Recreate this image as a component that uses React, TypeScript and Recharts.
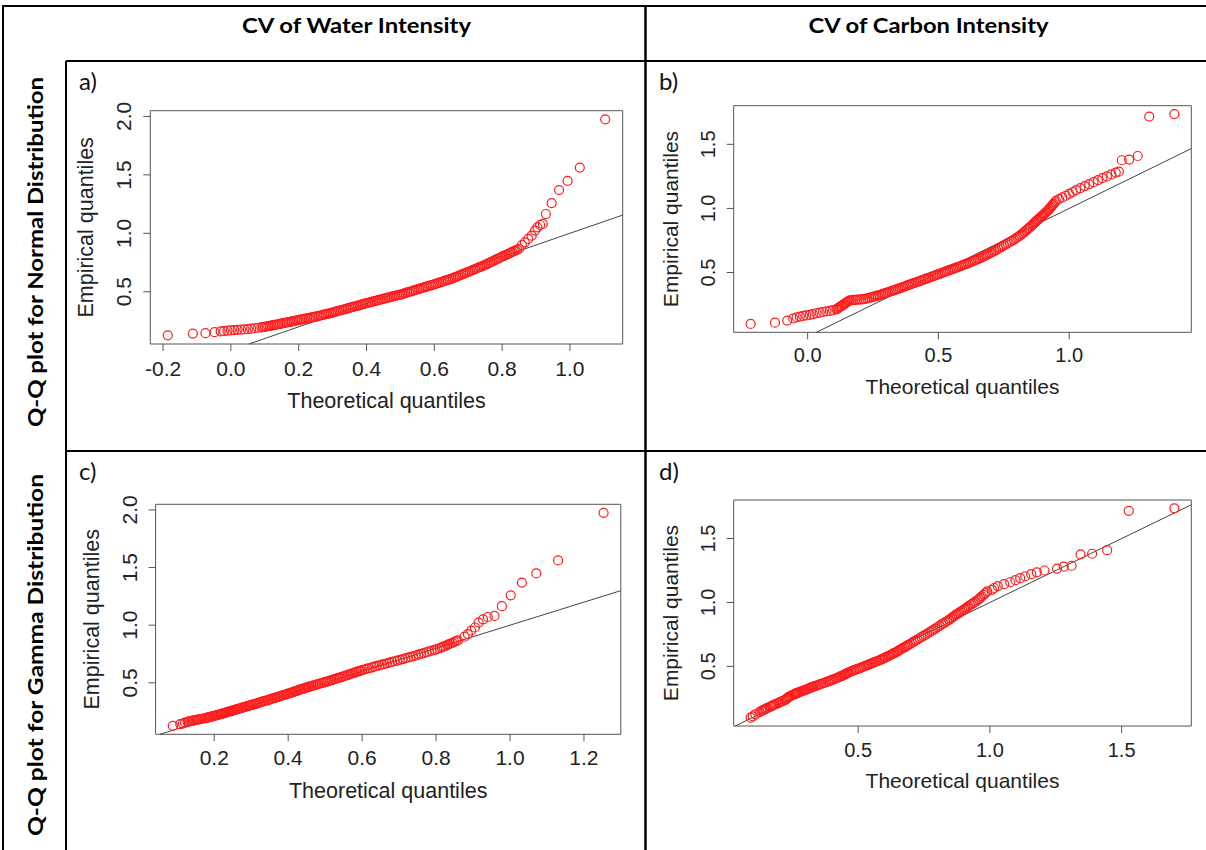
import React from "react";
import { ReferenceArea, ReferenceLine, Scatter, ScatterChart, XAxis, YAxis } from "recharts";

// CV of water intensity: sorted sample (shared by panels a and c) and theoretical quantiles
const waterNormalTheo = [
  -0.186, -0.112, -0.075, -0.048, -0.03, -0.02, -0.01, 0, 0.01, 0.02,
  0.03, 0.04, 0.05, 0.06, 0.07, 0.08, 0.09, 0.095, 0.1, 0.105,
  0.11, 0.115, 0.12, 0.125, 0.13, 0.135, 0.14, 0.145, 0.15, 0.155,
  0.16, 0.165, 0.17, 0.175, 0.18, 0.185, 0.19, 0.195, 0.2, 0.205,
  0.21, 0.215, 0.22, 0.225, 0.23, 0.235, 0.24, 0.245, 0.25, 0.255,
  0.26, 0.265, 0.27, 0.275, 0.28, 0.285, 0.29, 0.295, 0.3, 0.305,
  0.31, 0.315, 0.32, 0.325, 0.33, 0.335, 0.34, 0.345, 0.35, 0.355,
  0.36, 0.365, 0.37, 0.375, 0.38, 0.385, 0.39, 0.395, 0.4, 0.405,
  0.41, 0.415, 0.42, 0.425, 0.43, 0.435, 0.44, 0.445, 0.45, 0.455,
  0.46, 0.465, 0.47, 0.475, 0.48, 0.485, 0.49, 0.495, 0.5, 0.505,
  0.51, 0.515, 0.52, 0.525, 0.53, 0.535, 0.54, 0.545, 0.55, 0.555,
  0.56, 0.565, 0.57, 0.575, 0.58, 0.585, 0.59, 0.595, 0.6, 0.605,
  0.61, 0.615, 0.62, 0.625, 0.63, 0.635, 0.64, 0.645, 0.65, 0.655,
  0.66, 0.665, 0.67, 0.675, 0.68, 0.685, 0.69, 0.695, 0.7, 0.705,
  0.71, 0.715, 0.72, 0.725, 0.73, 0.735, 0.74, 0.745, 0.75, 0.755,
  0.76, 0.765, 0.77, 0.775, 0.78, 0.785, 0.79, 0.795, 0.8, 0.805,
  0.81, 0.815, 0.82, 0.825, 0.83, 0.835, 0.84, 0.845, 0.85, 0.858,
  0.867, 0.877, 0.887, 0.897, 0.904, 0.912, 0.92, 0.929, 0.946, 0.968,
  0.993, 1.029, 1.104,
];
const waterEmpirical = [
  0.127, 0.142, 0.146, 0.154, 0.161, 0.164, 0.167, 0.17, 0.172, 0.174,
  0.176, 0.178, 0.18, 0.184, 0.188, 0.192, 0.196, 0.198, 0.2, 0.203,
  0.206, 0.208, 0.211, 0.214, 0.217, 0.219, 0.222, 0.225, 0.228, 0.231,
  0.234, 0.237, 0.24, 0.243, 0.246, 0.249, 0.252, 0.255, 0.258, 0.261,
  0.264, 0.267, 0.27, 0.272, 0.275, 0.278, 0.281, 0.284, 0.287, 0.29,
  0.294, 0.297, 0.301, 0.304, 0.308, 0.311, 0.315, 0.318, 0.322, 0.326,
  0.33, 0.334, 0.338, 0.342, 0.346, 0.35, 0.354, 0.358, 0.362, 0.366,
  0.37, 0.374, 0.378, 0.382, 0.386, 0.39, 0.394, 0.398, 0.402, 0.406,
  0.41, 0.413, 0.417, 0.421, 0.425, 0.428, 0.432, 0.436, 0.44, 0.443,
  0.447, 0.45, 0.454, 0.458, 0.462, 0.465, 0.469, 0.472, 0.476, 0.48,
  0.485, 0.489, 0.494, 0.498, 0.502, 0.506, 0.511, 0.515, 0.52, 0.524,
  0.529, 0.533, 0.538, 0.542, 0.546, 0.55, 0.555, 0.559, 0.564, 0.568,
  0.573, 0.578, 0.583, 0.587, 0.592, 0.597, 0.602, 0.606, 0.611, 0.617,
  0.623, 0.628, 0.634, 0.64, 0.646, 0.651, 0.657, 0.663, 0.669, 0.675,
  0.681, 0.687, 0.693, 0.699, 0.706, 0.712, 0.718, 0.724, 0.73, 0.737,
  0.744, 0.751, 0.758, 0.765, 0.772, 0.779, 0.786, 0.793, 0.8, 0.807,
  0.814, 0.82, 0.827, 0.834, 0.841, 0.847, 0.854, 0.861, 0.868, 0.9,
  0.923, 0.952, 0.98, 1.023, 1.051, 1.071, 1.08, 1.165, 1.259, 1.37,
  1.449, 1.562, 1.975,
];
const waterGammaTheo = [
  0.088, 0.108, 0.115, 0.121, 0.128, 0.132, 0.135, 0.139, 0.142, 0.146,
  0.149, 0.153, 0.156, 0.162, 0.168, 0.174, 0.179, 0.182, 0.185, 0.188,
  0.192, 0.195, 0.198, 0.201, 0.205, 0.208, 0.211, 0.214, 0.218, 0.221,
  0.224, 0.227, 0.23, 0.233, 0.236, 0.239, 0.243, 0.246, 0.249, 0.252,
  0.255, 0.258, 0.261, 0.263, 0.266, 0.269, 0.273, 0.276, 0.279, 0.282,
  0.286, 0.29, 0.294, 0.297, 0.301, 0.305, 0.309, 0.312, 0.316, 0.32,
  0.324, 0.328, 0.332, 0.336, 0.341, 0.345, 0.349, 0.353, 0.357, 0.361,
  0.365, 0.369, 0.373, 0.377, 0.381, 0.385, 0.389, 0.393, 0.397, 0.4,
  0.404, 0.407, 0.411, 0.414, 0.418, 0.421, 0.425, 0.428, 0.432, 0.435,
  0.439, 0.442, 0.446, 0.449, 0.453, 0.456, 0.46, 0.463, 0.467, 0.472,
  0.477, 0.481, 0.486, 0.491, 0.496, 0.5, 0.505, 0.509, 0.514, 0.518,
  0.523, 0.527, 0.532, 0.536, 0.54, 0.544, 0.549, 0.553, 0.558, 0.562,
  0.566, 0.57, 0.575, 0.579, 0.583, 0.587, 0.592, 0.596, 0.601, 0.607,
  0.614, 0.62, 0.627, 0.633, 0.64, 0.647, 0.654, 0.66, 0.667, 0.674,
  0.681, 0.688, 0.695, 0.702, 0.71, 0.717, 0.724, 0.731, 0.738, 0.745,
  0.752, 0.759, 0.767, 0.774, 0.781, 0.788, 0.796, 0.803, 0.81, 0.815,
  0.82, 0.825, 0.83, 0.834, 0.839, 0.844, 0.849, 0.854, 0.859, 0.877,
  0.886, 0.895, 0.905, 0.915, 0.927, 0.94, 0.958, 0.978, 1.002, 1.032,
  1.071, 1.13, 1.253,
];

// CV of carbon intensity: sorted sample (shared by panels b and d) and theoretical quantiles
const carbonNormalTheo = [
  -0.218, -0.125, -0.078, -0.055, -0.042, -0.03, -0.017, -0.005, 0.008, 0.02,
  0.034, 0.046, 0.059, 0.072, 0.085, 0.097, 0.11, 0.114, 0.118, 0.122,
  0.127, 0.131, 0.135, 0.14, 0.144, 0.148, 0.152, 0.157, 0.161, 0.168,
  0.175, 0.183, 0.19, 0.198, 0.205, 0.213, 0.22, 0.228, 0.235, 0.243,
  0.25, 0.256, 0.262, 0.269, 0.275, 0.282, 0.288, 0.294, 0.3, 0.307,
  0.313, 0.32, 0.326, 0.333, 0.339, 0.346, 0.352, 0.359, 0.365, 0.371,
  0.377, 0.384, 0.39, 0.396, 0.402, 0.409, 0.415, 0.422, 0.428, 0.434,
  0.44, 0.447, 0.453, 0.46, 0.466, 0.473, 0.479, 0.486, 0.492, 0.499,
  0.505, 0.512, 0.518, 0.524, 0.53, 0.537, 0.543, 0.55, 0.556, 0.562,
  0.568, 0.575, 0.581, 0.587, 0.593, 0.6, 0.606, 0.613, 0.619, 0.625,
  0.631, 0.638, 0.644, 0.651, 0.657, 0.664, 0.67, 0.677, 0.683, 0.689,
  0.695, 0.702, 0.708, 0.714, 0.72, 0.728, 0.735, 0.743, 0.75, 0.758,
  0.765, 0.773, 0.78, 0.789, 0.797, 0.804, 0.81, 0.816, 0.822, 0.829,
  0.835, 0.84, 0.845, 0.85, 0.855, 0.86, 0.865, 0.869, 0.873, 0.877,
  0.88, 0.885, 0.889, 0.894, 0.898, 0.902, 0.906, 0.911, 0.915, 0.92,
  0.924, 0.928, 0.932, 0.936, 0.94, 0.945, 0.949, 0.961, 0.974, 0.987,
  1.0, 1.013, 1.026, 1.042, 1.059, 1.076, 1.093, 1.11, 1.127, 1.144,
  1.161, 1.178, 1.19, 1.201, 1.229, 1.262, 1.306, 1.402,
];
const carbonEmpirical = [
  0.099, 0.109, 0.125, 0.142, 0.151, 0.156, 0.161, 0.165, 0.169, 0.175,
  0.182, 0.187, 0.192, 0.196, 0.2, 0.206, 0.213, 0.219, 0.225, 0.23,
  0.236, 0.241, 0.247, 0.254, 0.26, 0.266, 0.272, 0.277, 0.282, 0.284,
  0.286, 0.287, 0.288, 0.289, 0.29, 0.292, 0.294, 0.298, 0.302, 0.306,
  0.31, 0.313, 0.317, 0.32, 0.324, 0.328, 0.333, 0.337, 0.341, 0.345,
  0.35, 0.354, 0.359, 0.363, 0.368, 0.372, 0.377, 0.382, 0.387, 0.391,
  0.396, 0.401, 0.406, 0.41, 0.415, 0.419, 0.424, 0.428, 0.433, 0.437,
  0.442, 0.447, 0.452, 0.456, 0.461, 0.466, 0.471, 0.476, 0.481, 0.485,
  0.49, 0.495, 0.5, 0.505, 0.51, 0.514, 0.519, 0.524, 0.529, 0.533,
  0.538, 0.542, 0.547, 0.552, 0.557, 0.562, 0.567, 0.572, 0.578, 0.583,
  0.588, 0.593, 0.599, 0.604, 0.61, 0.616, 0.623, 0.629, 0.636, 0.642,
  0.649, 0.655, 0.662, 0.668, 0.675, 0.684, 0.693, 0.702, 0.711, 0.72,
  0.729, 0.738, 0.747, 0.757, 0.768, 0.777, 0.786, 0.796, 0.806, 0.817,
  0.828, 0.837, 0.846, 0.855, 0.864, 0.873, 0.883, 0.891, 0.9, 0.906,
  0.913, 0.92, 0.928, 0.936, 0.944, 0.952, 0.96, 0.969, 0.978, 0.987,
  0.996, 1.006, 1.016, 1.026, 1.036, 1.048, 1.06, 1.073, 1.086, 1.099,
  1.113, 1.128, 1.143, 1.158, 1.174, 1.19, 1.205, 1.221, 1.236, 1.25,
  1.265, 1.28, 1.287, 1.376, 1.381, 1.409, 1.717, 1.736,
];
const carbonGammaTheo = [
  0.092, 0.1, 0.11, 0.126, 0.133, 0.137, 0.143, 0.147, 0.15, 0.156,
  0.164, 0.169, 0.174, 0.178, 0.182, 0.189, 0.197, 0.202, 0.208, 0.215,
  0.222, 0.226, 0.229, 0.232, 0.236, 0.241, 0.246, 0.252, 0.258, 0.261,
  0.263, 0.264, 0.265, 0.267, 0.268, 0.27, 0.272, 0.277, 0.282, 0.287,
  0.292, 0.296, 0.301, 0.305, 0.31, 0.315, 0.32, 0.325, 0.33, 0.336,
  0.342, 0.348, 0.354, 0.36, 0.367, 0.373, 0.379, 0.386, 0.392, 0.397,
  0.403, 0.41, 0.416, 0.421, 0.427, 0.431, 0.436, 0.441, 0.446, 0.45,
  0.455, 0.459, 0.463, 0.468, 0.474, 0.48, 0.486, 0.492, 0.499, 0.505,
  0.511, 0.517, 0.523, 0.529, 0.535, 0.54, 0.546, 0.552, 0.558, 0.563,
  0.569, 0.574, 0.58, 0.586, 0.592, 0.596, 0.601, 0.606, 0.612, 0.617,
  0.622, 0.627, 0.632, 0.637, 0.643, 0.648, 0.653, 0.658, 0.664, 0.669,
  0.675, 0.68, 0.686, 0.691, 0.697, 0.704, 0.711, 0.718, 0.726, 0.733,
  0.74, 0.748, 0.755, 0.763, 0.771, 0.779, 0.786, 0.793, 0.801, 0.809,
  0.817, 0.824, 0.831, 0.838, 0.845, 0.851, 0.858, 0.863, 0.868, 0.873,
  0.879, 0.884, 0.89, 0.896, 0.902, 0.907, 0.913, 0.918, 0.924, 0.931,
  0.938, 0.945, 0.953, 0.958, 0.963, 0.969, 0.976, 0.983, 0.99, 1.008,
  1.016, 1.03, 1.054, 1.077, 1.097, 1.115, 1.134, 1.157, 1.178, 1.207,
  1.255, 1.28, 1.31, 1.344, 1.388, 1.445, 1.527, 1.7,
];

const waterNormalTicks = [-0.2, 0, 0.2, 0.4, 0.6, 0.8, 1.0];
const waterGammaTicks = [0.2, 0.4, 0.6, 0.8, 1.0, 1.2];
const carbonNormalTicks = [0, 0.5, 1.0];
const carbonGammaTicks = [0.5, 1.0, 1.5];
const waterYTicks = [0.5, 1.0, 1.5, 2.0];
const carbonYTicks = [0.5, 1.0, 1.5];

const columnTitles = ["CV of Water Intensity", "CV of Carbon Intensity"];
const rowTitles = ["Q-Q plot for Normal Distribution", "Q-Q plot for Gamma Distribution"];
const panelTags = ["a)", "b)", "c)", "d)"];

const ARIAL = "'Liberation Sans', Arial, sans-serif";
const CALIBRI = "Lato, 'Open Sans', sans-serif";
const INK = "#555";

// R pads the data range by 4% on each side
const padRange = (v: number[]): [number, number] => {
  const lo = Math.min(...v);
  const hi = Math.max(...v);
  const pad = (hi - lo) * 0.04;
  return [lo - pad, hi + pad];
};

function Ring(props: any) {
  const { cx, cy } = props;
  if (cx == null || cy == null) return null;
  return <circle cx={cx} cy={cy} r={4.5} fill="none" stroke="#ff1c1c" strokeWidth={1.2} />;
}

function AxisTitle({ tx, ty, text, size, vertical }: any) {
  return (
    <text
      x={tx}
      y={ty}
      transform={vertical ? `rotate(-90 ${tx} ${ty})` : undefined}
      textAnchor="middle"
      fontFamily={ARIAL}
      fontSize={size}
      fill="#222"
    >
      {text}
    </text>
  );
}

interface PanelSpec {
  theo: number[];
  emp: number[];
  xTicks: number[];
  yTicks: number[];
  left: number;
  top: number;
  width: number;
  height: number;
  box: [number, number, number, number]; // absolute l, t, r, b of the plot frame
  tickFont: number;
  titleFont: number;
  xTickDy: number;
  xTitleDy: number;
  yTickDx: number;
  yTitleDx: number;
}

function QQPanel({ p }: { p: PanelSpec }) {
  const n = Math.min(p.theo.length, p.emp.length);
  const data = p.theo.slice(0, n).map((x, i) => ({ x, y: p.emp[i] }));
  const xDom = padRange(p.theo);
  const yDom = padRange(p.emp);
  const lo = Math.max(xDom[0], yDom[0]);
  const hi = Math.min(xDom[1], yDom[1]);
  const L = p.box[0] - p.left;
  const T = p.box[1] - p.top;
  const R = p.box[2] - p.left;
  const B = p.box[3] - p.top;

  return (
    <div style={{ position: "absolute", left: p.left, top: p.top }}>
      <ScatterChart
        width={p.width}
        height={p.height}
        margin={{ top: T, right: p.width - R, bottom: 0, left: 0 }}
      >
        <XAxis
          type="number"
          dataKey="x"
          domain={xDom}
          allowDataOverflow
          ticks={p.xTicks}
          interval={0}
          height={p.height - B}
          axisLine={false}
          tickLine={{ stroke: INK }}
          tickSize={7}
          tick={(t: any) => (
            <text
              x={t.x}
              y={B + p.xTickDy}
              textAnchor="middle"
              fontFamily={ARIAL}
              fontSize={p.tickFont}
              fill="#222"
            >
              {Number(t.payload.value).toFixed(1)}
            </text>
          )}
          label={
            <AxisTitle
              tx={(L + R) / 2}
              ty={B + p.xTitleDy}
              text="Theoretical quantiles"
              size={p.titleFont}
            />
          }
        />
        <YAxis
          type="number"
          dataKey="y"
          domain={yDom}
          allowDataOverflow
          ticks={p.yTicks}
          interval={0}
          width={L}
          axisLine={false}
          tickLine={{ stroke: INK }}
          tickSize={7}
          tick={(t: any) => (
            <text
              x={L - p.yTickDx}
              y={t.y}
              transform={`rotate(-90 ${L - p.yTickDx} ${t.y})`}
              textAnchor="middle"
              fontFamily={ARIAL}
              fontSize={p.tickFont}
              fill="#222"
            >
              {Number(t.payload.value).toFixed(1)}
            </text>
          )}
          label={
            <AxisTitle
              tx={L - p.yTitleDx}
              ty={(T + B) / 2}
              text="Empirical quantiles"
              size={p.titleFont}
              vertical
            />
          }
        />
        <ReferenceArea
          x1={xDom[0]}
          x2={xDom[1]}
          y1={yDom[0]}
          y2={yDom[1]}
          fill="none"
          stroke={INK}
          strokeWidth={1}
        />
        <Scatter data={data} shape={Ring} isAnimationActive={false} />
        <ReferenceLine
          segment={[
            { x: lo, y: lo },
            { x: hi, y: hi },
          ]}
          stroke="#444"
          strokeWidth={1}
        />
      </ScatterChart>
    </div>
  );
}

const panels: PanelSpec[] = [
  {
    theo: waterNormalTheo, emp: waterEmpirical, xTicks: waterNormalTicks, yTicks: waterYTicks,
    left: 67, top: 62, width: 578, height: 388, box: [150.3, 110.7, 622.7, 344],
    tickFont: 21, titleFont: 21.5, xTickDy: 32, xTitleDy: 63.5, yTickDx: 18.8, yTitleDx: 57,
  },
  {
    theo: carbonNormalTheo, emp: carbonEmpirical, xTicks: carbonNormalTicks, yTicks: carbonYTicks,
    left: 647, top: 62, width: 559, height: 388, box: [733.7, 105.7, 1191.3, 332.3],
    tickFont: 20, titleFont: 21, xTickDy: 29.8, xTitleDy: 62, yTickDx: 18.4, yTitleDx: 55.7,
  },
  {
    theo: waterGammaTheo, emp: waterEmpirical, xTicks: waterGammaTicks, yTicks: waterYTicks,
    left: 67, top: 452, width: 578, height: 398, box: [155.6, 504.3, 620.8, 734.3],
    tickFont: 21, titleFont: 21.5, xTickDy: 31, xTitleDy: 63.2, yTickDx: 18.6, yTitleDx: 56.6,
  },
  {
    theo: carbonGammaTheo, emp: carbonEmpirical, xTicks: carbonGammaTicks, yTicks: carbonYTicks,
    left: 647, top: 452, width: 559, height: 398, box: [733.7, 500, 1191.3, 726],
    tickFont: 20, titleFont: 21, xTickDy: 30.7, xTitleDy: 61.5, yTickDx: 19, yTitleDx: 55.7,
  },
];

const tagPos = [
  [79, 90],
  [659, 90],
  [79, 480],
  [659, 480],
];

export default function App() {
  return (
    <div
      style={{
        position: "absolute",
        left: 0,
        top: 0,
        width: 1206,
        height: 850,
        background: "#fff",
        overflow: "hidden",
      }}
    >
      <svg width={1206} height={850} style={{ position: "absolute", left: 0, top: 0 }}>
        <g stroke="#000" strokeWidth={2}>
          <line x1={2} y1={6} x2={1206} y2={6} />
          <line x1={3} y1={5} x2={3} y2={850} />
          <line x1={66} y1={61} x2={1206} y2={61} />
          <line x1={66} y1={61} x2={66} y2={850} />
          <line x1={645.5} y1={5} x2={645.5} y2={850} strokeWidth={2.5} />
          <line x1={66} y1={451} x2={1206} y2={451} />
        </g>
        <text x={356.5} y={33} textAnchor="middle" fontFamily={CALIBRI} fontWeight={700}
          fontSize={21} textLength={229} lengthAdjust="spacingAndGlyphs">
          {columnTitles[0]}
        </text>
        <text x={928.5} y={33} textAnchor="middle" fontFamily={CALIBRI} fontWeight={700}
          fontSize={21} textLength={240} lengthAdjust="spacingAndGlyphs">
          {columnTitles[1]}
        </text>
        <text x={43} y={252} transform="rotate(-90 43 252)" textAnchor="middle"
          fontFamily={CALIBRI} fontWeight={700} fontSize={21} textLength={350}
          lengthAdjust="spacingAndGlyphs">
          {rowTitles[0]}
        </text>
        <text x={43} y={655} transform="rotate(-90 43 655)" textAnchor="middle"
          fontFamily={CALIBRI} fontWeight={700} fontSize={21} textLength={362}
          lengthAdjust="spacingAndGlyphs">
          {rowTitles[1]}
        </text>
        {panelTags.map((tag, i) => (
          <text key={tag} x={tagPos[i][0]} y={tagPos[i][1]} fontFamily={CALIBRI} fontSize={24}
            fill="#111">
            {tag}
          </text>
        ))}
      </svg>
      {panels.map((p, i) => (
        <QQPanel key={i} p={p} />
      ))}
    </div>
  );
}
